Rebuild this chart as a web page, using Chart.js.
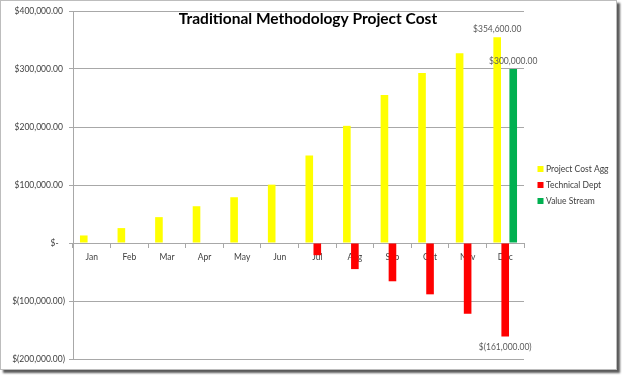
<!DOCTYPE html>
<html>
<head>
<meta charset="utf-8">
<script src="https://cdn.jsdelivr.net/npm/chart.js@4"></script>
<style>
  body { margin: 0; background: #fff; }
  .frame {
    position: absolute; left: 0; top: 0;
    width: 615px; height: 368px;
    border: 1px solid #bdbdbd;
    box-shadow: 3px 3px 2px #5a5a5a;
    background: #fff;
  }
</style>
</head>
<body>
<div class="frame"><canvas id="cost-chart" width="615" height="368"></canvas></div>
<script>
const months = ["Jan", "Feb", "Mar", "Apr", "May", "Jun", "Jul", "Aug", "Sep", "Oct", "Nov", "Dec"];
const projectCostAgg = [13000, 25700, 44600, 63400, 78900, 100600, 151000, 202000, 255000, 293000, 327000, 354600];
const technicalDept = [null, null, null, null, null, null, -21000, -45000, -66000, -88500, -122000, -161000];
const valueStream = [null, null, null, null, null, null, null, null, null, null, null, 300000];
const seriesNames = ["Project Cost Agg", "Technical Dept", "Value Stream"];
const seriesColors = ["#ffff00", "#ff0000", "#00b050"];
// only the Dec point of each series carries a label
const labelIndex = 11;

const textColor = "#404040";
const gridColor = "#a8a8a8";

function accounting(v) {
  if (v === 0) return "$- \u2002";
  let s = Math.abs(v).toLocaleString("en-US", { minimumFractionDigits: 2, maximumFractionDigits: 2 });
  return v < 0 ? "$(" + s + ")" : "$" + s + " ";
}

const extras = {
  id: "extras",
  afterDraw(chart) {
    const c = chart.ctx;
    c.save();
    // title
    c.fillStyle = "#000";
    c.font = "bold 15.5px Lato";
    c.textAlign = "center";
    c.textBaseline = "alphabetic";
    c.fillText("Traditional Methodology Project Cost", 307, 23);

    // value labels on the Dec bars
    c.font = "8.5px Lato";
    c.fillStyle = "#595959";
    c.textBaseline = "middle";
    chart.data.datasets.forEach((ds, i) => {
      const v = ds.data[labelIndex];
      if (v == null) return;
      const bar = chart.getDatasetMeta(i).data[labelIndex];
      const y = v < 0 ? bar.y + 11 : bar.y - 8;
      c.fillText(accounting(v).trim(), bar.x, y);
    });

    // legend
    c.textAlign = "left";
    c.font = "8.5px Lato";
    chart.data.datasets.forEach((ds, i) => {
      const y = 168 + i * 16;
      c.fillStyle = ds.backgroundColor;
      c.fillRect(536.5, y - 3, 6, 6);
      c.fillStyle = textColor;
      c.fillText(ds.label, 545, y);
    });
    c.restore();
  },
};

const ctx = document.querySelector("#cost-chart");

new Chart(ctx, {
  type: "bar",
  data: {
    labels: months,
    datasets: [
      { label: seriesNames[0], data: projectCostAgg, backgroundColor: seriesColors[0] },
      { label: seriesNames[1], data: technicalDept, backgroundColor: seriesColors[1] },
      { label: seriesNames[2], data: valueStream, backgroundColor: seriesColors[2] },
    ],
  },
  options: {
    responsive: false,
    animation: false,
    categoryPercentage: 0.64,
    barPercentage: 0.95,
    layout: { padding: { left: 0, right: 92, top: 10, bottom: 10 } },
    plugins: {
      legend: { display: false },
      tooltip: { enabled: false },
    },
    scales: {
      x: {
        position: { y: 0 },
        grid: { drawOnChartArea: false, color: gridColor, tickLength: 4 },
        border: { color: gridColor },
        ticks: { color: textColor, font: { family: "Lato", size: 8.5 }, padding: 5, maxRotation: 0 },
      },
      y: {
        min: -200000,
        max: 400000,
        afterFit: (scale) => { scale.width = 72; },
        grid: { color: gridColor, tickLength: 4 },
        border: { color: gridColor },
        ticks: {
          stepSize: 100000,
          color: textColor,
          font: { family: "Lato", size: 8.5 },
          padding: 4,
          callback: (v) => accounting(v),
        },
      },
    },
  },
  plugins: [extras],
});
</script>
</body>
</html>
